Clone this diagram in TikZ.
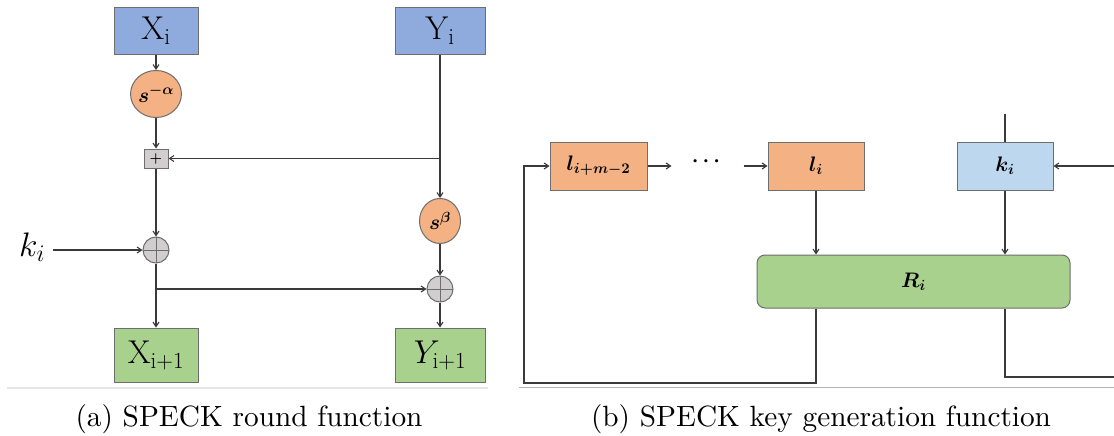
\RequirePackage{fix-cm}
\documentclass[tikz,border=0pt]{standalone}
\usepackage{fontspec}
\newfontfamily\capfont{lmroman10-regular.otf}
\usetikzlibrary{arrows.meta,shapes.geometric,calc}

% freely scalable bold math fonts
\DeclareFontShape{OML}{cmm}{b}{it}{<->cmmib10}{}
\DeclareFontShape{OMS}{cmsy}{b}{n}{<->cmbsy10}{}
\DeclareFontShape{OT1}{cmr}{bx}{n}{<->cmbx10}{}

\definecolor{boxblue}{HTML}{8FAADC}
\definecolor{keyblue}{HTML}{BDD7EE}
\definecolor{rotorange}{HTML}{F4B183}
\definecolor{outgreen}{HTML}{A9D18E}
\definecolor{opgray}{HTML}{D0CECE}
\definecolor{edgegray}{HTML}{6E6E6E}
\definecolor{wire}{HTML}{3A3A3A}
\definecolor{rulelight}{HTML}{E6E6E6}
\definecolor{ruledark}{HTML}{B4B4B4}

\begin{document}
\begin{tikzpicture}[x=1pt,y=-1pt,
  box/.style={draw=edgegray, line width=1pt, inner sep=0pt, anchor=center},
  rot/.style={box, ellipse, fill=rotorange},
  xorop/.style={box, circle, fill=opgray, minimum size=26pt,
    path picture={\draw[edgegray, line width=1pt]
      (path picture bounding box.north) -- (path picture bounding box.south)
      (path picture bounding box.west) -- (path picture bounding box.east);}},
  wireline/.style={draw=wire, line width=1.1pt},
  con/.style={wireline, -{Straight Barb[length=4.5pt,width=6pt]}},
  biglabel/.style={font=\fontsize{33}{39}\selectfont},
  rotlabel/.style={font=\fontsize{21}{25}\selectfont\boldmath},
  keylabel/.style={font=\fontsize{21}{25}\selectfont\boldmath},
  captext/.style={anchor=base, inner sep=0pt, font=\capfont\fontsize{29.3}{35}\selectfont}
]
\useasboundingbox (0,0) rectangle (1114,436);

% ---------- (a) round function ----------
\node[box, fill=boxblue, minimum width=84pt, minimum height=47pt, biglabel] (X) at (156,31) {$\mathrm{X_i}$};
\node[box, fill=boxblue, minimum width=90pt, minimum height=47pt, biglabel] (Y) at (440,31) {$\mathrm{Y_i}$};
\node[rot, minimum width=40pt, minimum height=47pt, rotlabel] (Sa) at (156,94) {$s^{-\alpha}$};
\node[box, fill=opgray, minimum width=24pt, minimum height=19pt, font=\fontsize{14}{14}\selectfont\boldmath] (plus) at (156,158.5) {$+$};
\node[xorop] (xa) at (156,250) {};
\node[inner sep=0pt, anchor=base west, font=\fontsize{34}{40}\selectfont] (ki) at (19,256) {$k_i$};
\node[rot, minimum width=41pt, minimum height=45pt, rotlabel] (Sb) at (440,221) {$s^{\beta}$};
\node[xorop] (xb) at (440,289) {};
\node[box, fill=outgreen, minimum width=84pt, minimum height=54pt, biglabel] (X1) at (156,355) {$\mathrm{X_{i+1}}$};
\node[box, fill=outgreen, minimum width=90pt, minimum height=54pt, biglabel] (Y1) at (440,355) {$Y_{\mathrm{i+1}}$};

\draw[con] (X) -- (Sa);
\draw[con] (Sa) -- (plus);
\draw[con] (Y) -- (Sb);
\coordinate (tap) at (Y.south |- plus);
\draw[con] (tap) -- (plus.east);
\draw[con] (plus) -- (xa);
\coordinate (kfeed) at (53,250);
\draw[con] (kfeed) -- (xa.west);
\draw[con] (xa) -- (X1);
\coordinate (branch) at (xa.center |- xb);
\draw[con] (branch) -- (xb.west);
\draw[con] (Sb) -- (xb);
\draw[con] (xb) -- (Y1);

\draw[rulelight, line width=1.2pt] (7,388) -- (488,388);

% ---------- (b) key schedule ----------
\node[box, fill=rotorange, minimum width=97pt, minimum height=48pt, keylabel] (lm) at (598.5,166) {$l_{i+m-2}$};
\node[keylabel] (dots) at (706,162) {$\cdots$};
\node[box, fill=rotorange, minimum width=96pt, minimum height=48pt, keylabel] (li) at (816,166) {$l_i$};
\node[box, fill=keyblue, minimum width=96pt, minimum height=48pt, keylabel] (kk) at (1005,166) {$k_i$};
\node[box, fill=outgreen, rounded corners=8pt, minimum width=313pt, minimum height=53pt, keylabel] (R) at (913.5,281.5) {$R_i$};

\coordinate (lmout) at ($(lm.east)+(24,0)$);
\coordinate (liin) at ($(li.west)-(24,0)$);
\draw[con] (lm.east) -- (lmout);
\draw[con] (liin) -- (li.west);
\draw[con] (li.south) -- (li.south |- R.north);
\draw[con] (kk.south) -- (kk.south |- R.north);

\coordinate (ktop) at (1005,114);
\draw[wireline] (ktop) -- (kk.north);
\coordinate (kin) at (1114,166);
\draw[con] (kin) -- (kk.east);

% feedback of the round output into the key register
\coordinate (fbcorner) at (524,383);
\draw[con] (li.south |- R.south) |- (fbcorner) |- (lm.west);

% next round key leaving to the right
\coordinate (kout) at (1114,377);
\draw[wireline] (kk.south |- R.south) |- (kout);

\draw[ruledark, line width=1.5pt] (519,387.5) -- (1114,387.5);

% ---------- captions ----------
\node[captext] (capa) at (249,426) {(a) SPECK round function};
\node[captext] (capb) at (821,426) {(b) SPECK key generation function};
\end{tikzpicture}
\end{document}
